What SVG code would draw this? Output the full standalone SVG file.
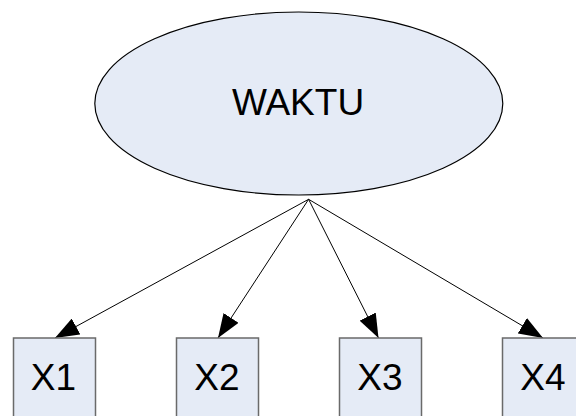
<svg xmlns="http://www.w3.org/2000/svg" width="576" height="416" viewBox="0 0 576 416">
<defs>
<style>
.n{fill:#E5EBF6;}
.e{stroke:#000;stroke-width:1.2;}
.b{stroke:#6A6A6A;stroke-width:1.5;}
.t{font-family:"Liberation Sans",Arial,sans-serif;font-size:37px;fill:#000;text-anchor:middle;}
.c{stroke:#000;stroke-width:1;fill:none;marker-end:url(#ah);}
</style>
<marker id="ah" viewBox="0 0 24 18" refX="24" refY="9" markerWidth="24" markerHeight="18" markerUnits="userSpaceOnUse" orient="auto">
<path d="M0,0 L24,9 L0,18 Z" fill="#000"/>
</marker>
</defs>
<rect width="576" height="416" fill="#fff"/>
<g id="connectors">
<line class="c" x1="308.6" y1="199.3" x2="55" y2="338"/>
<line class="c" x1="308.6" y1="199.3" x2="218" y2="338"/>
<line class="c" x1="308.6" y1="199.3" x2="378.5" y2="338"/>
<line class="c" x1="308.6" y1="199.3" x2="543" y2="338"/>
</g>
<g id="waktu">
<ellipse class="n e" cx="298.8" cy="103.5" rx="204" ry="91.5"/>
<text class="t" x="298" y="115">WAKTU</text>
</g>
<g id="x1">
<rect class="n b" x="13.5" y="338" width="82" height="90"/>
<text class="t" x="53.5" y="390">X1</text>
</g>
<g id="x2">
<rect class="n b" x="176.5" y="338" width="82" height="90"/>
<text class="t" x="217" y="390">X2</text>
</g>
<g id="x3">
<rect class="n b" x="339.5" y="338" width="82" height="90"/>
<text class="t" x="380" y="390">X3</text>
</g>
<g id="x4">
<rect class="n b" x="502.5" y="338" width="82" height="90"/>
<text class="t" x="543" y="390">X4</text>
</g>
</svg>
